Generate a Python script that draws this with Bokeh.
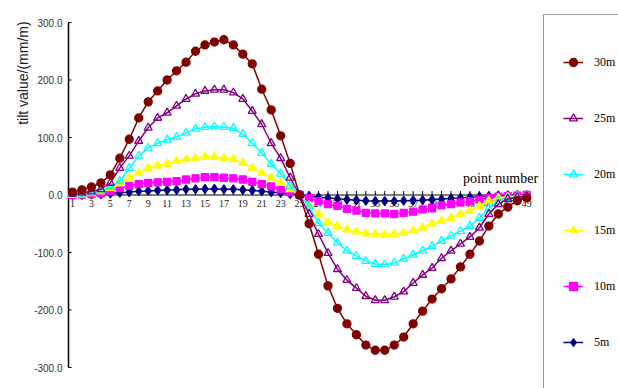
import math
from bokeh.plotting import figure
from bokeh.models import Range1d, Legend, LegendItem, Label
from bokeh.core.properties import value
from bokeh.embed import file_html
from bokeh.resources import INLINE

# measuring points along the line
points = list(range(1, 50))
odd_ticks = list(range(1, 50, 2))

# tilt values (mm/m) per depth
tilt_30m = [5, 9, 14, 21, 35, 64, 97, 134, 162, 181, 200, 216, 231, 250, 261, 266, 270, 261, 245, 228,
            184, 148, 103, 55, 0,
            -50, -103, -158, -197, -224, -243, -261, -270, -270, -261, -247, -224, -202, -181, -163,
            -146, -125, -103, -80, -54, -33, -21, -10, -5]
tilt_25m = [2, 4, 6, 10, 21, 47, 68, 94, 117, 134, 143, 155, 167, 176, 181, 183, 183, 178, 167, 146,
            123, 90, 64, 30, 0,
            -33, -68, -101, -129, -148, -162, -176, -183, -183, -177, -168, -153, -139, -127, -110,
            -97, -85, -73, -57, -33, -16, -7, -4, -2]
tilt_20m = [1, 2, 4, 7, 14, 24, 47, 68, 82, 90, 96, 101, 108, 115, 118, 119, 118, 116, 106, 90,
            73, 54, 37, 16, 0,
            -20, -49, -66, -83, -97, -106, -115, -120, -121, -118, -111, -104, -97, -89, -80,
            -71, -63, -54, -40, -23, -10, -5, -3, -1]
tilt_15m = [0, 1, 3, 6, 12, 20, 30, 38, 47, 51, 54, 59, 62, 64, 66, 66, 64, 62, 56, 47,
            38, 30, 21, 10, 0,
            -18, -33, -47, -54, -60, -64, -67, -68, -69, -68, -66, -62, -57, -50, -45,
            -40, -33, -28, -19, -10, -5, -3, -2, -1]
tilt_10m = [0, 0.5, 1.5, 3, 7, 12, 16, 19, 21, 22, 23, 24, 27, 29, 31, 31, 30, 29, 27, 23,
            19, 15, 10, 5, 0,
            -5, -11, -16, -19, -24, -27, -31, -32, -32, -33, -31, -29, -25, -23, -18,
            -16, -13, -11, -8, -5, -3, -2, -1, 0]
tilt_5m = [0, 0.3, 1, 1.5, 3, 4, 5, 6.5, 7, 8, 8.5, 9, 10, 10, 10.5, 10.5, 10, 10, 9, 8,
           6.5, 5, 3.5, 2, 0,
           -2, -4, -5, -6.5, -8, -9, -10, -10.5, -10.5, -10.5, -10, -9.5, -9, -8, -7,
           -6, -5, -4, -3, -2, -1, -0.5, 0, 0]

y_ticks = [-300, -200, -100, 0, 100, 200, 300]
y_tick_labels = ["-300.0", "-200.0", "-100.0", "0.0", "100.0", "200.0", "300.0"]

# axis extents in data units
X_AXIS_START = 0.58
X_AXIS_END = 49.4

# plot frame fills the whole canvas; axes are drawn inside it
W, H = 618, 388
px_x = 462 / (X_AXIS_END - X_AXIS_START)
px_y = 345 / 600
x_lo = X_AXIS_START - 68 / px_x
x_hi = X_AXIS_START + 550 / px_x
y_hi = 300 + 22 / px_y
y_lo = -300 - 21 / px_y

p = figure(width=W, height=H, output_backend="svg", toolbar_location=None,
           x_range=Range1d(x_lo, x_hi), y_range=Range1d(y_lo, y_hi),
           x_axis_location=None, y_axis_location=None, min_border=0)
p.outline_line_color = None
p.xgrid.visible = False
p.ygrid.visible = False
p.background_fill_color = "white"
p.border_fill_color = "white"

# value axis on the left
p.segment(x0=[X_AXIS_START], y0=[y_ticks[0]], x1=[X_AXIS_START], y1=[y_ticks[-1]],
          line_color="black", line_width=1.5)
p.ray(x=[X_AXIS_START] * len(y_ticks), y=y_ticks, length=3, length_units="screen",
      angle=0, line_color="black", line_width=1)
p.text(x=[X_AXIS_START] * len(y_ticks), y=y_ticks, text=y_tick_labels, x_offset=-6,
       text_align="right", text_baseline="middle", text_font=value("Liberation Sans"),
       text_font_size="10px", text_color="#333333")

# point axis through zero
p.segment(x0=[X_AXIS_START], y0=[0], x1=[X_AXIS_END], y1=[0], line_color="black", line_width=1)
p.ray(x=points, y=[0] * len(points), length=4, length_units="screen", angle=math.pi / 2,
      line_color="black", line_width=1)
p.text(x=odd_ticks, y=[0] * len(odd_ticks), text=[str(t) for t in odd_ticks], y_offset=5,
       text_align="center", text_baseline="top", text_font=value("Liberation Serif"),
       text_font_size="10px", text_color="#222222")

series = [
    ("5m", tilt_5m, "#000080", "diamond", 9, True),
    ("10m", tilt_10m, "#FF00FF", "square", 7, True),
    ("15m", tilt_15m, "#FFFF00", "triangle", 8, True),
    ("20m", tilt_20m, "#00FFFF", "triangle", 8, False),
    ("25m", tilt_25m, "#800080", "triangle", 8, False),
    ("30m", tilt_30m, "#800000", "circle", 8, True),
]

items = {}
for name, vals, color, marker, size, filled in series:
    ln = p.line(points, vals, line_color=color, line_width=1.5)
    sc = p.scatter(points, vals, marker=marker, size=size, line_color=color, line_width=1.3,
                   fill_color=color if filled else "white", fill_alpha=1.0 if filled else 0.0)
    items[name] = LegendItem(label=name, renderers=[ln, sc])

# blank spacer keeps the legend frame running past the bottom edge
spacer = p.scatter([points[0]], [tilt_5m[0]], size=1, alpha=0)
order = ["30m", "25m", "20m", "15m", "10m", "5m"]
legend_items = [items[k] for k in order] + [LegendItem(label=" ", renderers=[spacer])]

legend = Legend(items=legend_items, location=(543, -40), orientation="vertical",
                title=" ", title_text_font_size="12px", title_standoff=4,
                padding=19, margin=0, spacing=36,
                glyph_width=20, glyph_height=20, label_height=20, label_standoff=11,
                label_text_font="Liberation Serif", label_text_font_size="12px",
                label_text_color="black",
                border_line_color="#333333", border_line_width=1.5,
                background_fill_color="white", background_fill_alpha=1.0)
p.add_layout(legend, "center")

p.add_layout(Label(x=50.2, y=28, text="point number", text_align="right",
                   text_baseline="middle", text_font="Liberation Serif",
                   text_font_size="14px", text_color="black"))
p.add_layout(Label(x=X_AXIS_START - 46 / px_x, y=212, text="tilt value/(mm/m)",
                   angle=math.pi / 2, text_align="center", text_baseline="middle",
                   text_font="Liberation Sans", text_font_size="14px", text_color="#222222"))

open("out.html", "w").write(file_html(p, INLINE))
